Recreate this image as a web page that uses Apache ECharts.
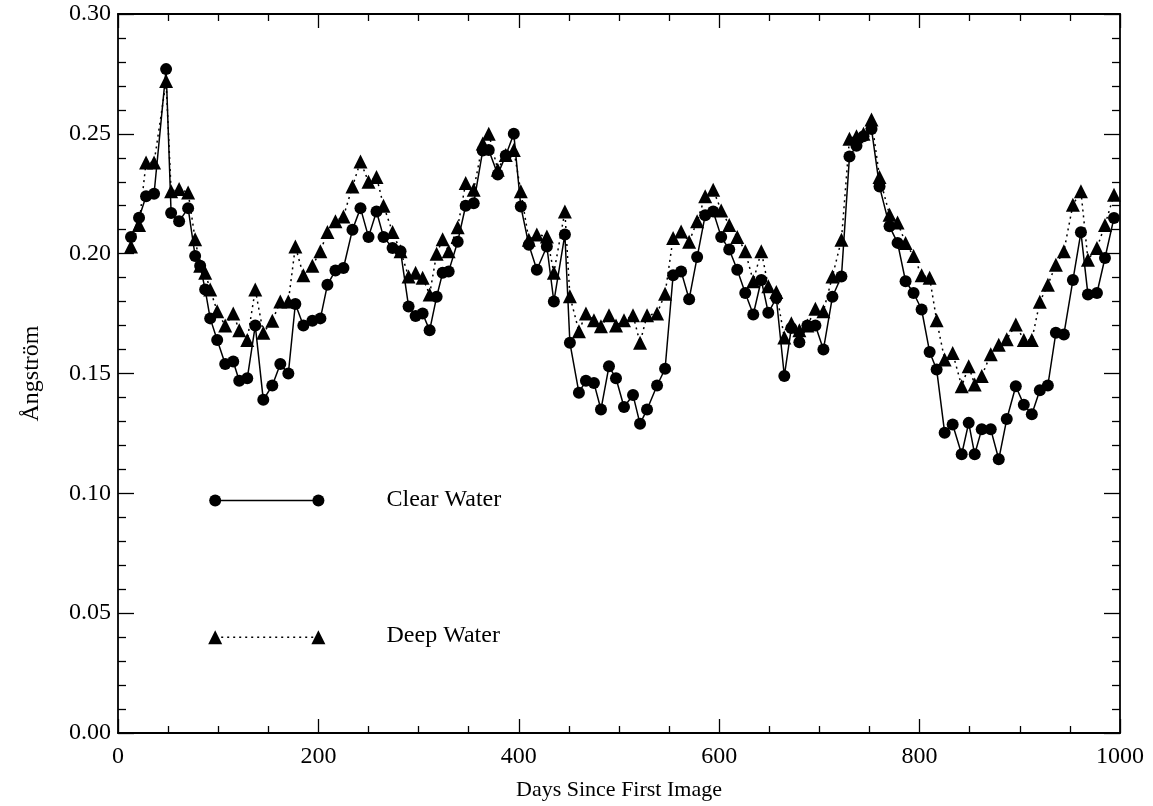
<!DOCTYPE html>
<html>
<head>
<meta charset="utf-8">
<script src="https://cdn.jsdelivr.net/npm/echarts@6/dist/echarts.min.js"></script>
<style>
html,body{margin:0;padding:0;background:#fff;}
#chart{width:1153px;height:806px;}
</style>
</head>
<body>
<div id="chart"></div>
<script>
const days = [13,21,28,36,48,53,61,70,77,82,87,92,99,107,115,121,129,137,145,154,162,170,177,185,194,202,209,217,225,234,242,250,258,265,274,282,290,297,304,311,318,324,330,339,347,355,364,370,379,387,395,402,410,418,428,435,446,451,460,467,475,482,490,497,505,514,521,528,538,546,554,562,570,578,586,594,602,610,618,626,634,642,649,657,665,672,680,688,696,704,713,722,730,737,744,752,760,770,778,786,794,802,810,817,825,833,842,849,855,862,871,879,887,896,904,912,920,928,936,944,953,961,968,977,985,994];
const clearWater = [0.207,0.215,0.224,0.225,0.277,0.217,0.2135,0.219,0.199,0.195,0.185,0.173,0.164,0.154,0.155,0.147,0.148,0.170,0.139,0.145,0.154,0.150,0.179,0.170,0.172,0.173,0.187,0.193,0.194,0.210,0.219,0.207,0.2176,0.207,0.2024,0.201,0.178,0.174,0.175,0.168,0.182,0.192,0.1926,0.205,0.220,0.221,0.243,0.2433,0.233,0.241,0.250,0.2197,0.2037,0.1933,0.203,0.180,0.208,0.1628,0.142,0.147,0.146,0.135,0.153,0.148,0.136,0.141,0.129,0.135,0.145,0.152,0.191,0.1926,0.181,0.1986,0.216,0.2176,0.207,0.2017,0.1933,0.1836,0.1746,0.189,0.1753,0.1815,0.149,0.169,0.163,0.170,0.170,0.160,0.182,0.1905,0.2405,0.245,0.249,0.252,0.228,0.2114,0.2045,0.1885,0.1836,0.1767,0.159,0.1517,0.1253,0.1287,0.1163,0.1294,0.1163,0.1267,0.1267,0.1142,0.131,0.1447,0.137,0.133,0.143,0.145,0.167,0.1663,0.189,0.2089,0.183,0.1836,0.1982,0.2149];
const deepWater = [0.203,0.212,0.238,0.238,0.272,0.226,0.227,0.2255,0.206,0.195,0.192,0.185,0.176,0.170,0.175,0.168,0.164,0.185,0.167,0.172,0.180,0.180,0.203,0.191,0.195,0.201,0.209,0.2135,0.2155,0.228,0.2385,0.230,0.232,0.220,0.209,0.201,0.1905,0.192,0.190,0.183,0.200,0.206,0.201,0.211,0.2295,0.2267,0.246,0.250,0.235,0.2412,0.2433,0.226,0.2058,0.208,0.2072,0.192,0.2176,0.1822,0.1676,0.175,0.1722,0.1697,0.1743,0.170,0.1722,0.1743,0.1628,0.1743,0.175,0.1833,0.2065,0.2093,0.205,0.2135,0.224,0.2267,0.218,0.212,0.207,0.201,0.1885,0.201,0.1864,0.184,0.165,0.171,0.168,0.170,0.177,0.176,0.1905,0.2058,0.248,0.249,0.250,0.256,0.232,0.2162,0.213,0.2045,0.199,0.191,0.190,0.1722,0.1558,0.1586,0.1447,0.153,0.1454,0.149,0.158,0.162,0.1643,0.1704,0.164,0.164,0.1799,0.187,0.1954,0.201,0.2204,0.226,0.1975,0.2024,0.212,0.2246];
const seriesNames = ['Clear Water', 'Deep Water'];
const xAxisTitle = 'Days Since First Image';
const yAxisTitle = 'Ångström';
// legend sample placement (data units)
const legendDays = [97, 200];
const legendLevels = [0.097, 0.040];
const legendTextDay = 268;

const FONT = '"Liberation Serif", "DejaVu Serif", serif';
const chart = echarts.init(document.getElementById('chart'), null, {renderer: 'canvas'});

const baseX = {
  type: 'value', min: 0, max: 1000, interval: 200,
  axisLine: {show: true, onZero: false, lineStyle: {color: '#000', width: 1.8}},
  axisTick: {show: true, inside: true, length: 14, lineStyle: {color: '#000', width: 1.3}},
  minorTick: {show: true, splitNumber: 4, length: 7, lineStyle: {color: '#000', width: 1.3}},
  splitLine: {show: false}, minorSplitLine: {show: false}
};
const baseY = {
  type: 'value', min: 0, max: 0.30, interval: 0.05,
  axisLine: {show: true, onZero: false, lineStyle: {color: '#000', width: 1.8}},
  axisTick: {show: true, inside: true, length: 16, lineStyle: {color: '#000', width: 1.3}},
  minorTick: {show: true, splitNumber: 5, length: 8, lineStyle: {color: '#000', width: 1.3}},
  splitLine: {show: false}, minorSplitLine: {show: false}
};

const option = {
  backgroundColor: '#fff',
  animation: false,
  grid: {left: 118, right: 33, top: 14, bottom: 72, containLabel: false},
  xAxis: [
    Object.assign({}, baseX, {
      position: 'bottom',
      axisLabel: {show: true, color: '#000', fontFamily: FONT, fontSize: 24, margin: 12,
        formatter: v => String(v)},
      name: xAxisTitle, nameLocation: 'middle', nameGap: 46,
      nameTextStyle: {color: '#000', fontFamily: FONT, fontSize: 22}
    }),
    Object.assign({}, baseX, {position: 'top', axisLabel: {show: false}})
  ],
  yAxis: [
    Object.assign({}, baseY, {
      position: 'left',
      axisLabel: {show: true, color: '#000', fontFamily: FONT, fontSize: 24, margin: 7,
        formatter: v => v.toFixed(2)},
      name: yAxisTitle, nameLocation: 'middle', nameGap: 74, nameRotate: 90,
      nameTextStyle: {color: '#000', fontFamily: FONT, fontSize: 24}
    }),
    Object.assign({}, baseY, {position: 'right', axisLabel: {show: false}})
  ],
  series: [
    {
      name: seriesNames[0], type: 'line', xAxisIndex: 0, yAxisIndex: 0,
      data: days.map((d, i) => [d, clearWater[i]]),
      symbol: 'circle', symbolSize: 12,
      itemStyle: {color: '#000'},
      lineStyle: {color: '#000', width: 1.5, type: 'solid'},
      z: 3
    },
    {
      name: seriesNames[1], type: 'line', xAxisIndex: 0, yAxisIndex: 0,
      data: days.map((d, i) => [d, deepWater[i]]),
      symbol: 'triangle', symbolSize: 14,
      itemStyle: {color: '#000'},
      lineStyle: {color: '#000', width: 1.5, type: [2, 4]},
      z: 2
    },
    {
      name: 'legend-clear', type: 'line',
      data: legendDays.map(d => [d, legendLevels[0]]),
      symbol: 'circle', symbolSize: 12, silent: true,
      itemStyle: {color: '#000'}, lineStyle: {color: '#000', width: 1.5}
    },
    {
      name: 'legend-deep', type: 'line',
      data: legendDays.map(d => [d, legendLevels[1]]),
      symbol: 'triangle', symbolSize: 14, silent: true,
      itemStyle: {color: '#000'}, lineStyle: {color: '#000', width: 1.5, type: [2, 4]}
    }
  ]
};
chart.setOption(option);

const t1 = chart.convertToPixel({gridIndex: 0}, [legendTextDay, legendLevels[0]]);
const t2 = chart.convertToPixel({gridIndex: 0}, [legendTextDay, legendLevels[1]]);
chart.setOption({
  graphic: [
    {type: 'text', left: t1[0], top: t1[1] - 13, style: {text: seriesNames[0], fill: '#000', font: '24px ' + FONT}},
    {type: 'text', left: t2[0], top: t2[1] - 13, style: {text: seriesNames[1], fill: '#000', font: '24px ' + FONT}}
  ]
});
</script>
</body>
</html>
